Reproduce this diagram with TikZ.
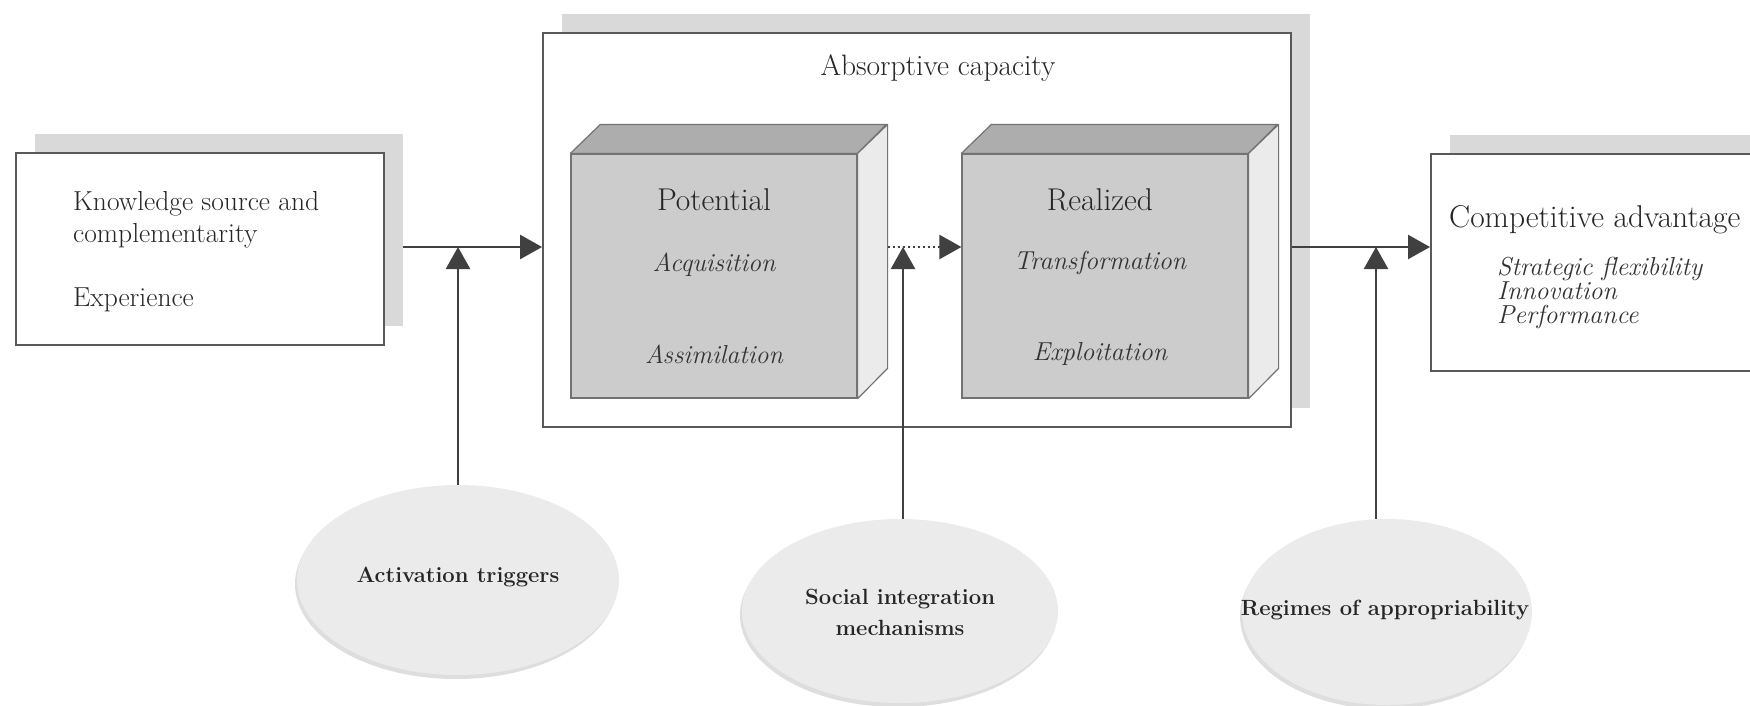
\documentclass[tikz,border=0pt]{standalone}
\usepackage{fontspec}
\usetikzlibrary{arrows.meta,shadows,shapes.geometric}

\begin{document}
\begin{tikzpicture}[x=1pt,y=-1pt]
\tikzset{Box/.style = {draw=black!65, line width=1.8pt, fill=white, drop shadow={shadow xshift=19pt, shadow yshift=19pt, fill=black!15, opacity=1}},
  Face/.style = {draw=black!55, line width=1.2pt, fill=black!20, minimum width=286pt, minimum height=244pt},
  Top/.style = {draw=black!55, line width=1.2pt, fill=black!32, line join=round},
  Side/.style = {draw=black!55, line width=1.2pt, fill=black!8, line join=round},
  Blob/.style = {ellipse, fill=black!8, inner sep=0pt, drop shadow={shadow xshift=-2pt, shadow yshift=-4pt, fill=black!13, opacity=1}},
  Tag/.style = {inner sep=0pt, align=center, text=black!85, font=\fontsize{22}{31}\selectfont\bfseries},
  Head/.style = {inner sep=0pt, text=black!85, font=\fontsize{29.5}{34}\selectfont},
  Body/.style = {inner sep=0pt, text=black!85, align=left, font=\fontsize{27.5}{32}\selectfont},
  Item/.style = {inner sep=0pt, text=black!80, align=left, font=\fontsize{26}{28}\selectfont\itshape},
  Link/.style = {draw=black!75, line width=2.4pt, -{Triangle[length=22pt,width=24pt]}}}
\useasboundingbox (0,0) rectangle (1750,705); \clip (0,0) rectangle (1750,705);

\node[Box, minimum width=368pt, minimum height=192pt] (src) at (200,249) {};
\node[Body, anchor=west] (srctxt) at (73,252) {Knowledge source and\\complementarity\\[32pt]Experience};

\node[Box, minimum width=748pt, minimum height=394pt] (acap) at (917,230) {};
\node[Head] (acaptitle) at (938,68) {Absorptive capacity};

\node[Face] (pot) at (714,276) {};
\draw[Top] (pot.north west) -- ++(30,-29) -- ++(286,0) -- (pot.north east) -- cycle;
\draw[Side] (pot.north east) -- ++(30,-29) -- ++(0,244) -- (pot.south east) -- cycle;
\node[Head, font=\fontsize{31.5}{34}\selectfont] (pottitle) at (714,200) {Potential};
\node[Item] (acq) at (714,265) {Acquisition};
\node[Item] (ass) at (714,354) {Assimilation};

\node[Face] (real) at (1105,276) {};
\draw[Top] (real.north west) -- ++(30,-29) -- ++(286,0) -- (real.north east) -- cycle;
\draw[Side] (real.north east) -- ++(30,-29) -- ++(0,244) -- (real.south east) -- cycle;
\node[Head, font=\fontsize{31.5}{34}\selectfont] (realtitle) at (1100,200) {Realized};
\node[Item] (trans) at (1100,263) {Transformation};
\node[Item] (expl) at (1100,354) {Exploitation};

\node[Box, minimum width=340pt, minimum height=217pt, anchor=north west] (comp) at (1430,153) {};
\node[Head, anchor=west, font=\fontsize{31.5}{34}\selectfont] (comptitle) at (1449,220) {Competitive advantage};
\node[Item, anchor=west, font=\fontsize{26}{24}\selectfont\itshape] (complist) at (1497,293) {Strategic flexibility\\Innovation\\Performance};

\node[Blob, minimum width=322pt, minimum height=190pt] (trig) at (458,580) {};
\node[Tag] (trigtxt) at (458,577) {Activation triggers};
\node[Blob, minimum width=316pt, minimum height=184pt] (soc) at (900,611) {};
\node[Tag] (soctxt) at (900,612) {Social integration\\mechanisms};
\node[Blob, minimum width=290pt, minimum height=186pt] (reg) at (1387,612) {};
\node[Tag] (regtxt) at (1385,610) {Regimes of appropriability};

\coordinate (j1) at (458,247); \coordinate (j2) at (903,247); \coordinate (j3) at (1376,247);
\draw[Link] ([xshift=18pt]src.east |- j1) -- (acap.west |- j1);
\draw[Link, dash pattern=on 2.5pt off 2.5pt] ([xshift=30pt]pot.east |- j2) -- (real.west |- j2);
\draw[Link] (acap.east |- j3) -- (comp.west |- j3);
\draw[Link] (trig) -- (j1);
\draw[Link] (j2 |- soc.north) -- (j2);
\draw[Link] (j3 |- reg.north) -- (j3);
\end{tikzpicture}
\end{document}
